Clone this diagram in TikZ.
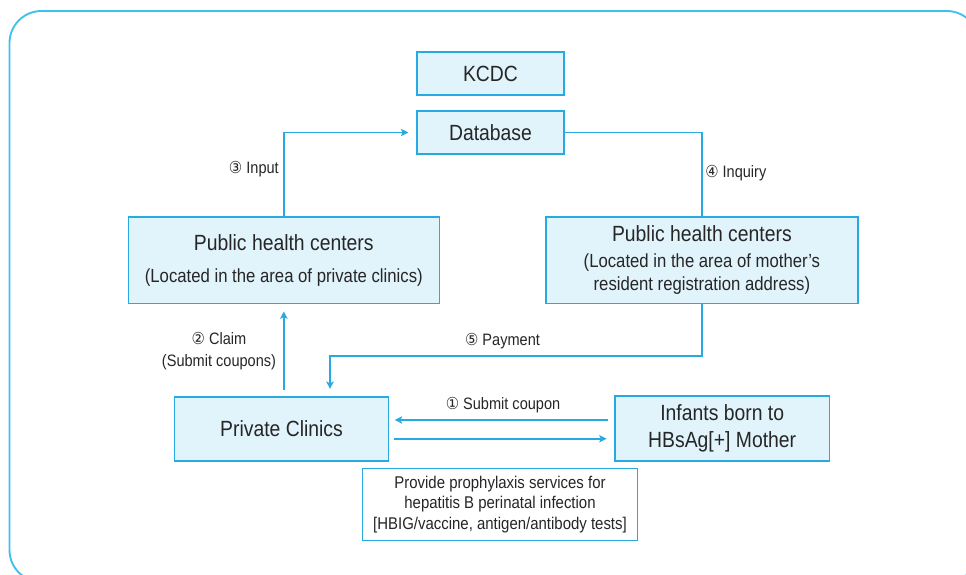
\documentclass[tikz,border=0pt]{standalone}
\usepackage{fontspec}
\setmainfont{Liberation Sans}[FakeStretch=0.88]
\newfontfamily\circfont{DejaVu Sans}[FakeStretch=0.9]
\usetikzlibrary{arrows.meta}
\definecolor{frameblue}{HTML}{3FC0EE}
\definecolor{lineblue}{HTML}{27AAE1}
\definecolor{boxfill}{HTML}{E1F3FB}
\definecolor{ink}{HTML}{262626}
\newcommand{\circnum}[1]{{\circfont #1}}

\begin{document}
\begin{tikzpicture}[x=0.75pt,y=-0.75pt,
  box/.style={draw=lineblue, fill=boxfill, line width=1.1pt, inner sep=0pt, align=center, text=ink},
  notebox/.style={draw=lineblue, fill=white, line width=1.1pt, inner sep=0pt, align=center, text=ink},
  link/.style={draw=lineblue, line width=1.25pt},
  arr/.style={link, -{Stealth[length=5.5pt,width=5.5pt,inset=1.2pt]}},
  lbl/.style={text=ink, font=\fontsize{12.4pt}{16.3pt}\selectfont, inner sep=0pt, align=center}]
\useasboundingbox (0,0) rectangle (966,574);

% outer rounded frame, running past the right and bottom edges
\begin{scope}
  \clip (0,0) rectangle (966,574);
  \draw[frameblue, line width=1.4pt, rounded corners=24pt] (9.5,11) rectangle (978.7,582);
\end{scope}

% boxes
\node[box, minimum width=110.25pt, minimum height=32.25pt,
      font=\fontsize{16.5pt}{20pt}\selectfont] (kcdc) at (490.5,73.5) {KCDC};
\node[box, minimum width=110.25pt, minimum height=32.25pt,
      font=\fontsize{16.5pt}{20pt}\selectfont] (db) at (490.5,132.5) {Database};

\node[box, minimum width=233.25pt, minimum height=64.7pt,
      font=\fontsize{14.25pt}{23.8pt}\selectfont] (phcL) at (283.8,260.2)
  {{\fontsize{16.5pt}{23.8pt}\selectfont Public health centers}\\
   (Located in the area of private clinics)};

\node[box, minimum width=233.8pt, minimum height=64.7pt,
      font=\fontsize{14.25pt}{17.5pt}\selectfont] (phcR) at (701.9,260.2)
  {{\fontsize{16.5pt}{17.5pt}\selectfont Public health centers}\\[1.8pt]
   (Located in the area of mother’s\\
   resident registration address)};

\node[box, minimum width=160.8pt, minimum height=48pt,
      font=\fontsize{16.5pt}{20pt}\selectfont] (clinic) at (281.5,429) {Private Clinics};

\node[box, minimum width=160.7pt, minimum height=48.75pt,
      font=\fontsize{16.5pt}{20pt}\selectfont] (infant) at (722.2,428.5)
  {Infants born to\\HBsAg[+] Mother};

\node[notebox, minimum width=206pt, minimum height=54.3pt,
      font=\fontsize{12.75pt}{15.6pt}\selectfont] (provide) at (500,504.5)
  {Provide prophylaxis services for\\
   hepatitis B perinatal infection\\
   {[}HBIG/vaccine, antigen/antibody tests{]}};

% connectors
\draw[arr, shorten >=6pt] (phcL.north) |- (db.west);
\draw[link] (db.east) -| (phcR.north);

\coordinate (payturn) at (330,355.7);
\draw[arr, shorten >=5.5pt] (phcR.south) |- (payturn) -- (payturn |- clinic.north);

\draw[arr, shorten <=5pt, shorten >=5.5pt] (clinic.north -| phcL.south) -- (phcL.south);

\draw[arr, shorten <=5pt, shorten >=4pt]
  ([yshift=6.4pt]infant.west) -- ([yshift=6.4pt]infant.west -| clinic.east);
\draw[arr, shorten <=3.5pt, shorten >=5.8pt]
  ([yshift=-7.3pt]clinic.east) -- ([yshift=-7.3pt]clinic.east -| infant.west);

% connector labels
\node[lbl, anchor=east] (lblInput) at (279,169) {\circnum{③} Input};
\node[lbl, anchor=west] (lblInquiry) at (705,172.7) {\circnum{④} Inquiry};
\node[lbl] (lblClaim) at (219,350.8) {\circnum{②} Claim\\(Submit coupons)};
\node[lbl] (lblPay) at (502.5,341) {\circnum{⑤} Payment};
\node[lbl] (lblSubmit) at (503,405) {\circnum{①} Submit coupon};

\end{tikzpicture}
\end{document}
